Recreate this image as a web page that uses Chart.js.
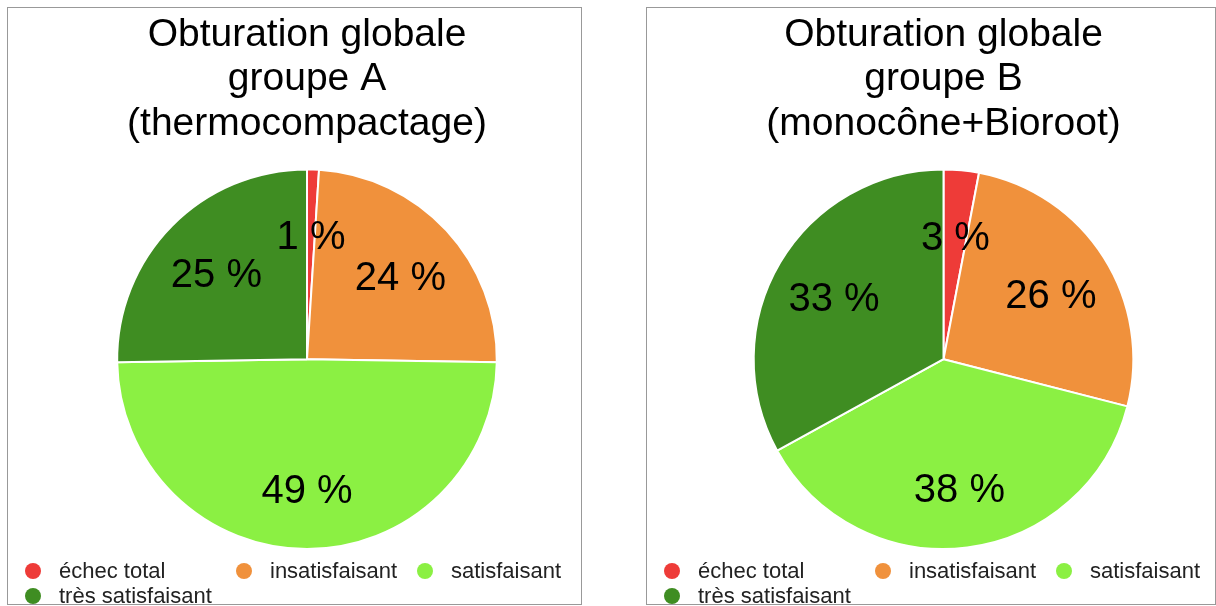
<!DOCTYPE html>
<html>
<head>
<meta charset="utf-8">
<script src="https://cdn.jsdelivr.net/npm/chart.js@4.4.1/dist/chart.umd.min.js"></script>
<style>
    body { margin: 0; background: #fff; width: 1216px; height: 606px; overflow: hidden; position: relative; }
    .panel { position: absolute; top: 7px; border: 1px solid #999; height: 596px; background: #fff; }
    #panelA { left: 7px; width: 573px; }
    #panelB { left: 646px; width: 568px; }
    canvas { display: block; }
</style>
</head>
<body>
<div class="panel" id="panelA"><canvas id="chartA" width="573" height="596"></canvas></div>
<div class="panel" id="panelB"><canvas id="chartB" width="568" height="596"></canvas></div>
<script>
    // ==================== DATA ====================
    const categories = ['échec total', 'insatisfaisant', 'satisfaisant', 'très satisfaisant'];
    const groupA = [1, 24, 49, 25];
    const groupB = [3, 26, 38, 33];
    const titleA = ['Obturation globale', 'groupe A', '(thermocompactage)'];
    const titleB = ['Obturation globale', 'groupe B', '(monocône+Bioroot)'];
    const sliceColors = ['#ee3b38', '#f0913c', '#8bf043', '#3f8d22'];

    const FONT = '"Liberation Sans", Arial, Helvetica, sans-serif';

    // percentage labels inside the slices
    const sliceLabels = {
        id: 'sliceLabels',
        afterDatasetsDraw(chart) {
            const ctx = chart.ctx;
            const meta = chart.getDatasetMeta(0);
            const vals = chart.data.datasets[0].data;
            ctx.save();
            ctx.font = '40px ' + FONT;
            ctx.fillStyle = '#000';
            ctx.textAlign = 'center';
            ctx.textBaseline = 'middle';
            meta.data.forEach((arc, i) => {
                const p = arc.getProps(['x', 'y', 'startAngle', 'endAngle', 'outerRadius'], true);
                const mid = (p.startAngle + p.endAngle) / 2;
                const r = p.outerRadius * 0.67;
                // +6 so the digits sit where the original had them
                ctx.fillText(vals[i] + ' %', p.x + Math.cos(mid) * r, p.y + Math.sin(mid) * r + 6);
            });
            ctx.restore();
        }
    };

    // legend under the pie, laid out in slots like the original
    const bottomLegend = {
        id: 'bottomLegend',
        afterDraw(chart, args, opts) {
            const ctx = chart.ctx;
            const colors = chart.data.datasets[0].backgroundColor;
            ctx.save();
            ctx.font = opts.fontSize + 'px ' + FONT;
            ctx.textBaseline = 'middle';
            ctx.textAlign = 'left';
            chart.data.labels.forEach((label, i) => {
                const s = opts.slots[i];
                ctx.fillStyle = colors[i];
                ctx.beginPath();
                ctx.arc(s[0], s[1], opts.dotRadius, 0, Math.PI * 2);
                ctx.fill();
                ctx.fillStyle = '#222';
                ctx.fillText(label, s[0] + opts.textGap, s[1] + 1);
            });
            ctx.restore();
        }
    };

    function makePie(id, title, values) {
        return new Chart(document.getElementById(id), {
            type: 'pie',
            data: {
                labels: categories,
                datasets: [{
                    data: values,
                    backgroundColor: sliceColors,
                    borderColor: '#fff',
                    borderWidth: 2
                }]
            },
            options: {
                responsive: false,
                animation: false,
                events: [],
                layout: { padding: { left: 25, right: 0, top: 0, bottom: 54 } },
                plugins: {
                    legend: { display: false },
                    tooltip: { enabled: false },
                    title: {
                        display: true,
                        text: title,
                        color: '#000',
                        font: { family: FONT, size: 39, weight: 'normal', lineHeight: 1.14 },
                        padding: { top: 5, bottom: 22 }
                    },
                    bottomLegend: {
                        fontSize: 22,
                        dotRadius: 8,
                        textGap: 26,
                        slots: [[25, 563], [236, 563], [417, 563], [25, 588]]
                    }
                }
            },
            plugins: [sliceLabels, bottomLegend]
        });
    }

    makePie('chartA', titleA, groupA);
    makePie('chartB', titleB, groupB);
</script>
</body>
</html>
